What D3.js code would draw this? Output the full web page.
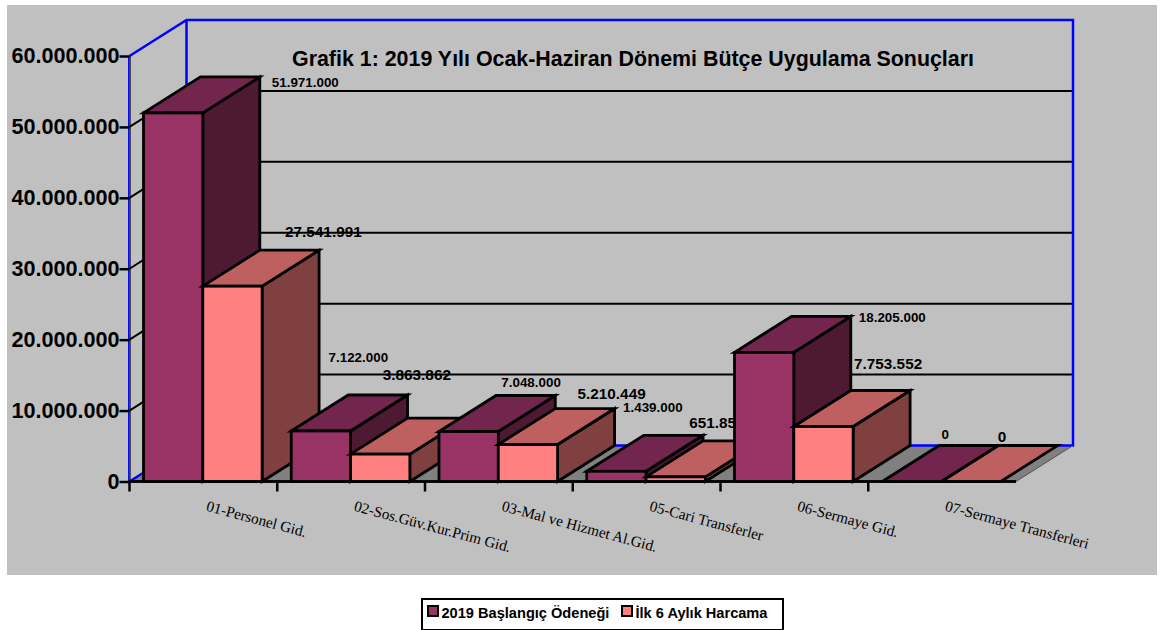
<!DOCTYPE html>
<html><head><meta charset="utf-8">
<script src="https://cdn.jsdelivr.net/npm/d3@7"></script>
<style>html,body{margin:0;padding:0;background:#fff}svg{display:block}text{font-family:"Liberation Sans",Arial,sans-serif;fill:#000}</style>
</head><body><div id="c"></div>
<script>
const categories = ["01-Personel Gid.","02-Sos.Güv.Kur.Prim Gid.","03-Mal ve Hizmet Al.Gid.","05-Cari Transferler","06-Sermaye Gid.","07-Sermaye Transferleri"];
const baslangic = [51971000,7122000,7048000,1439000,18205000,0];
const harcama = [27541991,3863862,5210449,651850,7753552,0];
const seriesNames = ["2019 Başlangıç Ödeneği","İlk 6 Aylık Harcama"];
const yTicks = [0,10000000,20000000,30000000,40000000,50000000,60000000];
const title = "Grafik 1: 2019 Yılı Ocak-Haziran Dönemi Bütçe Uygulama Sonuçları";
// label nudges relative to each bar's back-right top corner [series][category]
const labelNudge = [
 [[12,10],[-79,-33],[-54,-9],[-80,-23],[8,6],[-57,-7]],
 [[-34,-13],[-84,-38],[-37,-10],[-73,-13],[-56,-22],[-60,-4]]
];
const palette = [{front:"#993366",top:"#73264d",side:"#4d1933"},{front:"#ff8080",top:"#bf6060",side:"#804040"}];

const W=1174,H=630,dx=57,dy=36,x0=129.5,x1=1016,yB=481.5,yT=56,inset=14,barW=59.3;
const fmt=d3.formatLocale({decimal:",",thousands:".",grouping:[3],currency:["",""]}).format(",d");
const svg=d3.select("#c").append("svg").attr("width",W).attr("height",H);
svg.append("rect").attr("x",7).attr("y",5).attr("width",1150).attr("height",570).attr("fill","#c0c0c0");
const y=d3.scaleLinear().domain([0,60000000]).range([yB,yT]);
const x=d3.scaleBand().domain(categories).range([x0,x1]);
const poly=p=>p.map(a=>a.join(",")).join(" ");
const BLUE="#0000ff";

// floor
svg.append("polygon").attr("points",poly([[x0,yB],[x0+dx,yB-dy],[x1+dx+.5,yB-dy],[x1,yB]])).attr("fill","#808080");
// gridlines
const grid=yTicks.filter(t=>t>0&&t<60000000);
svg.selectAll(".g").data(grid).join("path").attr("fill","none").attr("stroke","#000").attr("stroke-width",2)
  .attr("d",t=>`M${x0},${y(t)}L${x0+dx},${y(t)-dy}L${x1+dx},${y(t)-dy}`);
// blue walls
svg.append("path").attr("fill","none").attr("stroke",BLUE).attr("stroke-width",2.5)
  .attr("d",`M${x0},${yT}L${x0+dx},${yT-dy}L${x1+dx},${yT-dy}L${x1+dx},${yB-dy}L${x0+dx},${yB-dy}L${x0},${yB}M${x0+dx},${yT-dy}L${x0+dx},${yB-dy}`);
svg.append("path").attr("fill","none").attr("stroke",BLUE).attr("stroke-width",1.5).attr("d",`M${x0-.7},${yT}V${yB}`);
svg.append("path").attr("fill","none").attr("stroke","#000").attr("stroke-width",1).attr("d",`M${x0+.6},${yT}V${yB}`);
svg.append("path").attr("stroke","#555").attr("stroke-width",1).attr("d",`M${x1},${yB}L${x1+dx},${yB-dy}`);
// front base line
svg.append("path").attr("stroke","#000").attr("stroke-width",2.5).attr("d",`M${x0},${yB}H${x1}`);

// y axis
const yAxis=d3.axisLeft(y).tickValues(yTicks).tickFormat(fmt).tickSize(10).tickPadding(0);
const ga=svg.append("g").attr("transform",`translate(${x0},0)`).call(yAxis);
ga.select(".domain").remove();
ga.selectAll("line").attr("stroke","#000").attr("stroke-width",2.5);
ga.selectAll("text").style("font-size","21.6px").style("font-weight","bold").attr("fill","#000");
// x ticks
svg.selectAll(".xt").data(categories).join("line").attr("x1",d=>x(d)).attr("x2",d=>x(d)).attr("y1",yB).attr("y2",yB+10)
  .attr("stroke","#000").attr("stroke-width",2.5);
// category labels
svg.selectAll(".xl").data(categories).join("text")
  .attr("transform",d=>`translate(${x(d)+76},${yB+29}) rotate(15)`)
  .style("font-family","'Liberation Serif',serif").style("font-size","15.2px").attr("fill","#222").text(d=>d);

// bars, group by group
const series=[baslangic,harcama];
categories.forEach((c,ci)=>{
  series.forEach((vals,si)=>{
    const v=vals[ci],L=x(c)+inset+si*barW,R=L+barW,t=y(v),col=palette[si];
    const g=svg.append("g").attr("stroke","#000").attr("stroke-width",2.8).attr("stroke-linejoin","miter");
    if(v>0){
      g.append("polygon").attr("points",poly([[R,yB],[R+dx,yB-dy],[R+dx,t-dy],[R,t]])).attr("fill",col.side);
      g.append("polygon").attr("points",poly([[L,t],[L+dx,t-dy],[R+dx,t-dy],[R,t]])).attr("fill",col.top);
      g.append("rect").attr("x",L).attr("y",t).attr("width",barW).attr("height",yB-t).attr("fill",col.front);
    } else {
      g.append("polygon").attr("points",poly([[L,t],[L+dx,t-dy],[R+dx,t-dy],[R,t]])).attr("fill",col.top);
    }
    const n=labelNudge[si][ci];
    svg.append("text").attr("x",R+dx+n[0]).attr("y",t-dy+n[1])
      .style("font-size",si?"15.3px":"13.4px").style("font-weight","bold").text(fmt(v));
  });
});
svg.append("path").attr("stroke","#000").attr("stroke-width",2.5).attr("d",`M${x0},${yB}H${x1}`);

// title
svg.append("text").attr("x",633).attr("y",66).attr("text-anchor","middle").style("font-size","21.4px").style("font-weight","bold").text(title);

// legend
svg.append("rect").attr("x",422).attr("y",599).attr("width",361).attr("height",31).attr("fill","#fff").attr("stroke","#000").attr("stroke-width",2);
const lx=[428,622],tx=[442,636];
seriesNames.forEach((s,i)=>{
  svg.append("rect").attr("x",lx[i]).attr("y",606).attr("width",10).attr("height",10).attr("fill",palette[i].front).attr("stroke","#000").attr("stroke-width",2);
  svg.append("text").attr("x",tx[i]-0.5).attr("y",617.5).style("font-size","14.6px").style("font-weight","bold").text(s);
});
</script></body></html>
